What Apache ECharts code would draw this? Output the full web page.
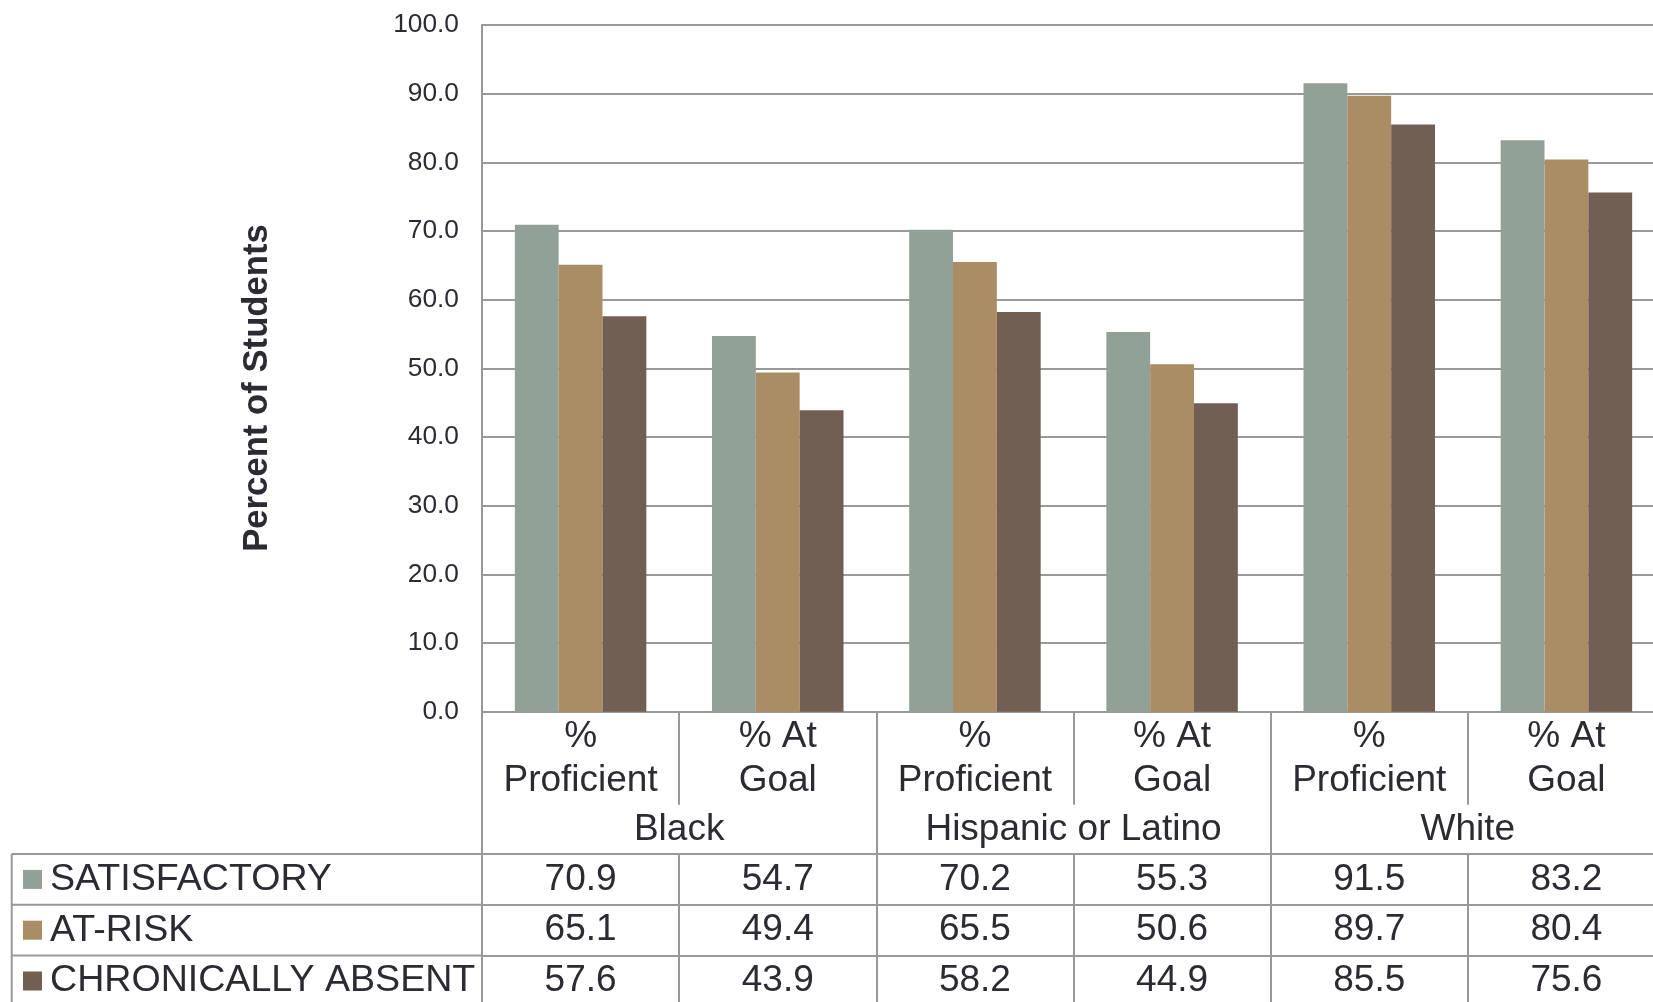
<!DOCTYPE html>
<html><head><meta charset="utf-8">
<script src="https://cdn.jsdelivr.net/npm/echarts@6/dist/echarts.min.js"></script>
<style>html,body{margin:0;padding:0;background:#fff}#c{width:1653px;height:1002px}</style>
</head><body><div id="c"></div>
<script>
// ---- data ----
const categories = ['% Proficient', '% At Goal', '% Proficient', '% At Goal', '% Proficient', '% At Goal'];
const groups = ['Black', 'Hispanic or Latino', 'White'];
const seriesNames = ['SATISFACTORY', 'AT-RISK', 'CHRONICALLY ABSENT'];
const satisfactory = [70.9, 54.7, 70.2, 55.3, 91.5, 83.2];
const atRisk = [65.1, 49.4, 65.5, 50.6, 89.7, 80.4];
const chronic = [57.6, 43.9, 58.2, 44.9, 85.5, 75.6];
const yMin = 0, yMax = 100, yInterval = 10;
const axisTitle = 'Percent of Students';

// ---- style ----
const colors = ['#92A198', '#AB8D65', '#725F54'];
const FONT = 'Liberation Sans';
const TXT = '#2b2b33';
const LINE = '#999999';
const AXIS_Y = 711.7, ROW0 = 854, ROW_H = 50.8, TABLE_LEFT = 11.7, PLOT_LEFT = 482;
const lineStyle = { color: LINE, width: 2 };

const rows = [satisfactory, atRisk, chronic];

const xAxes = [
  {
    type: 'category', gridIndex: 0, position: 'bottom', data: categories,
    axisLine: { show: true, lineStyle },
    axisTick: { show: true, length: 93, interval: 0, lineStyle },
    axisLabel: {
      interval: 0, margin: 3, fontSize: 37, lineHeight: 44, color: TXT, fontFamily: FONT,
      formatter: s => { const i = s.lastIndexOf(' '); return s.slice(0, i) + '\n' + s.slice(i + 1); }
    },
    splitLine: { show: false }
  },
  {
    type: 'category', gridIndex: 0, position: 'bottom', data: groups,
    axisLine: { show: false },
    axisTick: { show: true, length: 300, interval: 0, lineStyle },
    axisLabel: { interval: 0, margin: 96, fontSize: 37, lineHeight: 44, color: TXT, fontFamily: FONT },
    splitLine: { show: false }
  }
].concat(rows.map((vals, i) => ({
  type: 'category', gridIndex: 0, position: 'bottom', offset: ROW0 + i * ROW_H - AXIS_Y,
  data: vals.map(v => v.toFixed(1)),
  axisLine: { show: true, lineStyle },
  axisTick: { show: i === 0, length: 170, interval: 0, lineStyle },
  axisLabel: { interval: 0, margin: 0, fontSize: 37, lineHeight: ROW_H, color: TXT, fontFamily: FONT },
  splitLine: { show: false }
})));

const chart = echarts.init(document.getElementById('c'), null, { renderer: 'canvas' });
chart.setOption({
  animation: false,
  backgroundColor: '#ffffff',
  grid: { left: PLOT_LEFT, top: 25, width: 1183, bottom: 1002 - AXIS_Y, containLabel: false, outerBoundsMode: 'none' },
  legend: {
    orient: 'vertical', left: 23, top: ROW0, height: 240, padding: 0, itemGap: 0, itemWidth: 19, itemHeight: 19,
    icon: 'rect', selectedMode: false, data: seriesNames,
    textStyle: { fontSize: 37.6, lineHeight: ROW_H, color: TXT, fontFamily: FONT, padding: [0, 0, 0, 3] }
  },
  xAxis: xAxes,
  yAxis: {
    type: 'value', min: yMin, max: yMax, interval: yInterval,
    axisLine: { show: true, lineStyle },
    axisTick: { show: false },
    axisLabel: { margin: 23, fontSize: 26.3, color: TXT, fontFamily: FONT, formatter: v => v.toFixed(1) },
    splitLine: { show: true, lineStyle }
  },
  series: [satisfactory, atRisk, chronic].map((d, i) => ({
    name: seriesNames[i], type: 'bar', xAxisIndex: 0, data: d,
    barGap: '0%', barCategoryGap: '33.3%',
    itemStyle: { color: colors[i] }
  })),
  graphic: [
    { type: 'text', x: 257, y: 388, rotation: Math.PI / 2,
      style: { text: axisTitle, font: 'bold 34.7px "Liberation Sans"', fill: TXT, align: 'center', verticalAlign: 'middle' } },
    ...[0, 1, 2].map(i => ({ type: 'line', shape: { x1: TABLE_LEFT, y1: ROW0 + i * ROW_H, x2: PLOT_LEFT, y2: ROW0 + i * ROW_H }, style: { stroke: LINE, lineWidth: 2 } })),
    { type: 'line', shape: { x1: TABLE_LEFT, y1: ROW0, x2: TABLE_LEFT, y2: 1010 }, style: { stroke: LINE, lineWidth: 2 } }
  ]
});
</script></body></html>
